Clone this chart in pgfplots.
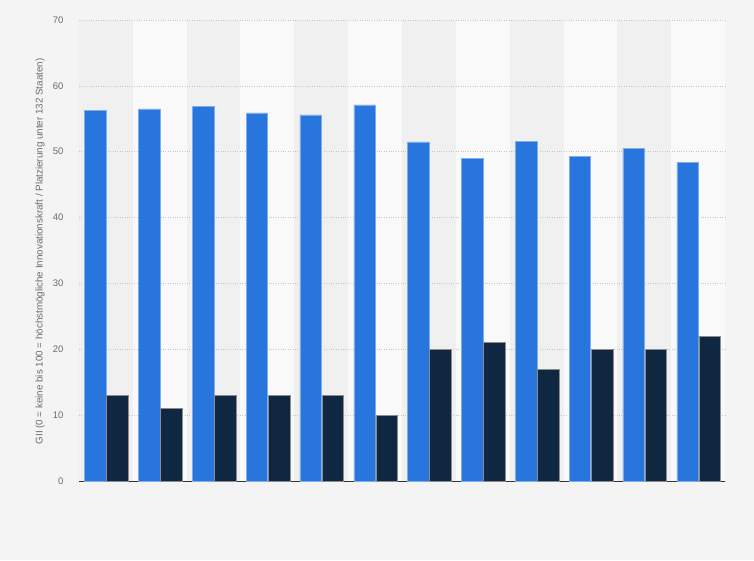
\documentclass[border=0pt]{standalone}
\usepackage{pgfplots}
\pgfplotsset{compat=1.18}
\usepackage{fontspec}
\setmainfont{Liberation Sans}
\definecolor{pagebg}{HTML}{F4F4F4}
\definecolor{bandA}{HTML}{F0F0F0}
\definecolor{bandB}{HTML}{F9F9F9}
\definecolor{sblue}{HTML}{2876DD}
\definecolor{snavy}{HTML}{0F2740}
\definecolor{txtgray}{HTML}{6B6B6B}

\pgfplotstableread{
x score rank
1 56.3 13
2 56.5 11
3 56.9 13
4 55.9 13
5 55.6 13
6 57.1 10
7 51.5 20
8 49.0 21
9 51.6 17
10 49.3 20
11 50.5 20
12 48.4 22
}\gii

\begin{document}
\begin{tikzpicture}
\begin{axis}[
    set layers,
    at={(79pt,79pt)}, anchor=south west,
    scale only axis,
    width=646pt, height=461pt,
    xmin=0.5, xmax=12.5,
    ymin=0, ymax=70,
    ytick={0,10,...,70},
    xtick=\empty,
    axis x line*=bottom,
    axis y line*=left,
    y axis line style={draw=none},
    x axis line style={draw=black!80, line width=0.9pt},
    ymajorgrids,
    grid style={dash pattern=on 0.8pt off 1.6pt, draw=black!22, line width=0.6pt},
    major tick length=0pt,
    yticklabel style={font=\fontsize{9.5}{11}\selectfont, text=txtgray, xshift=-12pt},
    /pgf/number format/assume math mode=true,
    ybar, bar width=0.4,
    clip=false,
]
\begin{pgfonlayer}{axis background}
% page background, whole 754 x 560 picture
\fill[pagebg] (axis description cs:-0.12229,-0.17137) rectangle (axis description cs:1.04489,1.04338);
\fill[bandA] (axis cs:0.5,0) rectangle (axis cs:1.5,70);
\fill[bandB] (axis cs:1.5,0) rectangle (axis cs:2.5,70);
\fill[bandA] (axis cs:2.5,0) rectangle (axis cs:3.5,70);
\fill[bandB] (axis cs:3.5,0) rectangle (axis cs:4.5,70);
\fill[bandA] (axis cs:4.5,0) rectangle (axis cs:5.5,70);
\fill[bandB] (axis cs:5.5,0) rectangle (axis cs:6.5,70);
\fill[bandA] (axis cs:6.5,0) rectangle (axis cs:7.5,70);
\fill[bandB] (axis cs:7.5,0) rectangle (axis cs:8.5,70);
\fill[bandA] (axis cs:8.5,0) rectangle (axis cs:9.5,70);
\fill[bandB] (axis cs:9.5,0) rectangle (axis cs:10.5,70);
\fill[bandA] (axis cs:10.5,0) rectangle (axis cs:11.5,70);
\fill[bandB] (axis cs:11.5,0) rectangle (axis cs:12.5,70);
\end{pgfonlayer}
\addplot[fill=sblue, draw=sblue!60!white, line width=0.5pt, bar shift=-0.195] table[x=x, y=score] {\gii};
\addplot[fill=snavy, draw=black!45, line width=0.5pt, bar shift=0.215] table[x=x, y=rank] {\gii};
\node[rotate=90, text=txtgray, font=\fontsize{9.8}{11}\selectfont] at (axis description cs:-0.0604,0.498)
  {GII (0 = keine bis 100 = höchstmögliche Innovationskraft / Platzierung unter 132 Staaten)};
\end{axis}
\end{tikzpicture}
\end{document}
